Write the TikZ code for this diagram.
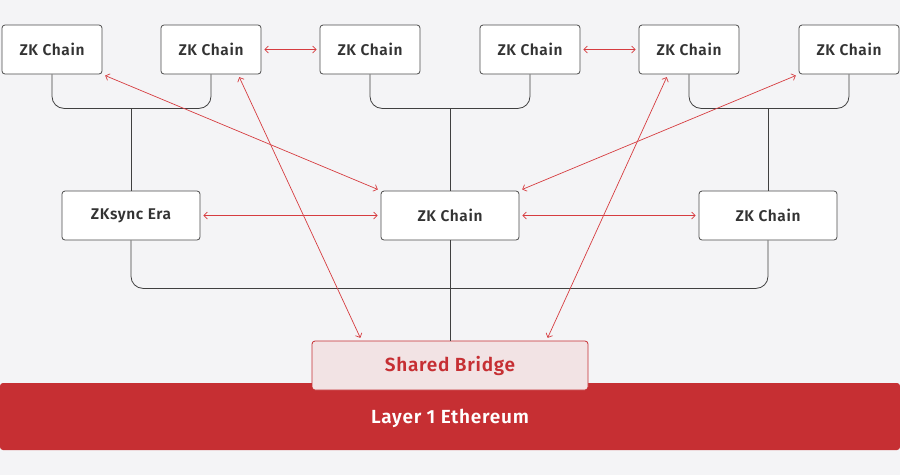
\documentclass[tikz,border=0pt]{standalone}
\usepackage{fontspec}
\setmainfont{Fira Sans}[BoldFont={Fira Sans SemiBold},LetterSpace=4]
\usepackage{xcolor}
\usetikzlibrary{arrows.meta,calc,positioning}
\definecolor{bgcol}{HTML}{F4F4F6}
\definecolor{lonered}{HTML}{C62F33}
\definecolor{linkred}{HTML}{D63C40}
\definecolor{bridgefill}{HTML}{F2E3E4}
\definecolor{boxtext}{HTML}{333333}
\tikzset{
  chain/.style={draw=black!70,fill=white,rounded corners=3pt,line width=0.8pt,
    minimum width=100pt,minimum height=49pt,text=boxtext,
    font=\bfseries\fontsize{15.5}{17}\selectfont},
  hub/.style={chain,minimum width=138pt},
  tree/.style={draw=black!75,line width=0.8pt,rounded corners=12pt},
  link/.style={draw=linkred,line width=0.7pt,
    {Straight Barb[length=3.5pt,width=7pt]}-{Straight Barb[length=3.5pt,width=7pt]},
    shorten <=3pt,shorten >=3pt}
}

\begin{document}
\begin{tikzpicture}[x=1pt,y=-1pt]
  \fill[bgcol] (0,0) rectangle (900,475);
  % layer 1 and bridge
  \node[fill=lonered,rounded corners=3pt,minimum width=900pt,minimum height=67pt,
    text depth=0pt,text=white,font=\bfseries\fontsize{19}{21}\selectfont] (eth) at (450,416.5) {Layer 1 Ethereum};
  \node[draw=lonered,fill=bridgefill,rounded corners=3pt,line width=0.8pt,
    minimum width=276pt,minimum height=49pt,text=lonered,
    font=\bfseries\fontsize{19}{21}\selectfont] (sb) at (450,365.5) {Shared Bridge};
  % top row
  \node[chain] (t1) at (52,49.5) {ZK Chain};
  \node[chain] (t2) at (211,49.5) {ZK Chain};
  \node[chain] (t3) at (370,49.5) {ZK Chain};
  \node[chain] (t4) at (530,49.5) {ZK Chain};
  \node[chain] (t5) at (689,49.5) {ZK Chain};
  \node[chain] (t6) at (849,49.5) {ZK Chain};
  % middle row
  \node[hub] (m1) at (131,215.5) {ZKsync Era};
  \node[hub] (m2) at (450,215.5) {ZK Chain};
  \node[hub] (m3) at (768,215.5) {ZK Chain};
  % tree lines
  \draw[tree] (t1.south) -- ++(0,34) -| (t2.south);
  \draw[tree] (t3.south) -- ++(0,34) -| (t4.south);
  \draw[tree] (t5.south) -- ++(0,34) -| (t6.south);
  \draw[tree] (m1.north) -- ++(0,-83);
  \draw[tree] (m2.north) -- ++(0,-83);
  \draw[tree] (m3.north) -- ++(0,-83);
  \draw[tree] (m1.south) -- ++(0,48) -| (m3.south);
  \draw[tree] (m2.south) -- (sb.north);
  % links
  \draw[link] (t2.east) -- (t3.west);
  \draw[link] (t4.east) -- (t5.west);
  \draw[link] (m1.east) -- (m2.west);
  \draw[link] (m2.east) -- (m3.west);
  \draw[link] (t1.south east) -- (m2.north west);
  \draw[link] (t6.south west) -- (m2.north east);
  \draw[link] ($(t2.south)+(27,0)$) -- ($(sb.north west)+(50,0)$);
  \draw[link] ($(t5.south)+(-21,0)$) -- ($(sb.north east)+(-42,0)$);
\end{tikzpicture}
\end{document}
